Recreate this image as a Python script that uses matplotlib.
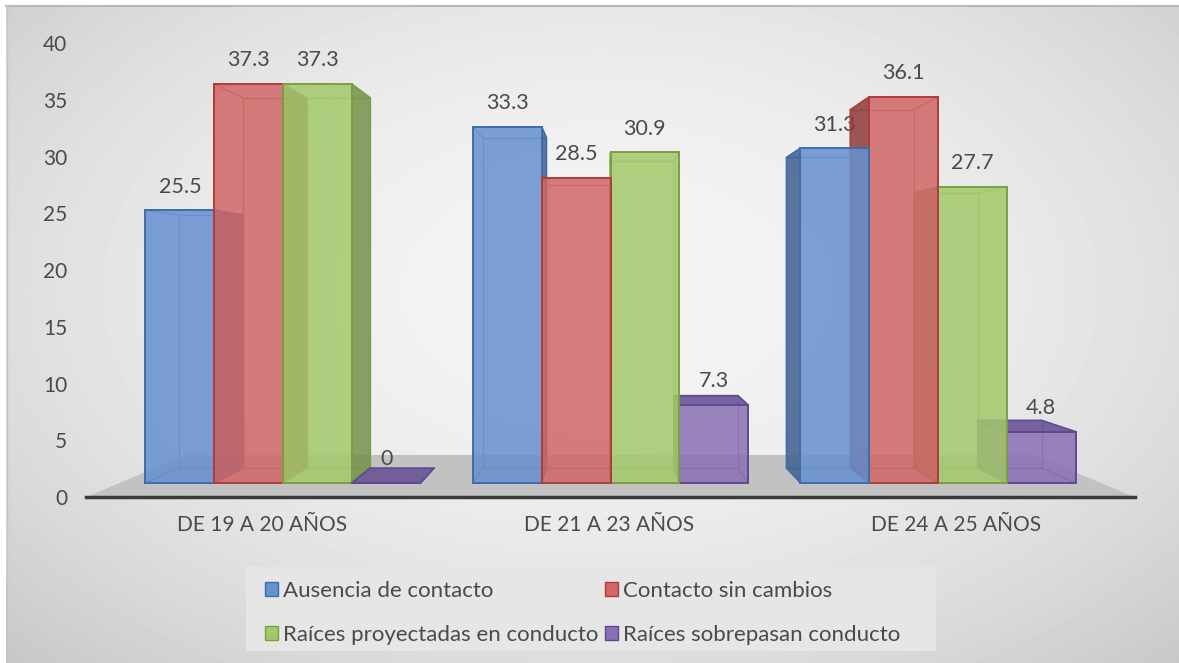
import numpy as np
import matplotlib.pyplot as plt
from matplotlib.patches import Polygon, Rectangle, Patch
from matplotlib.colors import to_rgba

# Datos del gráfico
grupos = ["DE 19 A 20 AÑOS", "DE 21 A 23 AÑOS", "DE 24 A 25 AÑOS"]
series = ["Ausencia de contacto", "Contacto sin cambios",
          "Raíces proyectadas en conducto", "Raíces sobrepasan conducto"]
ausencia = [25.5, 33.3, 31.3]
contacto = [37.3, 28.5, 36.1]
proyectadas = [37.3, 30.9, 27.7]
sobrepasan = [0, 7.3, 4.8]
ticks_y = [0, 5, 10, 15, 20, 25, 30, 35, 40]

valores = [ausencia, contacto, proyectadas, sobrepasan]

# Colores (cara frontal, borde, cara lateral)
frente = ['#6690cf', '#d06666', '#a3c86c', '#8a70b4']
borde = ['#3f6cb0', '#b03c3c', '#7b9f40', '#5f4990']
lado = ['#3d5f8e', '#8e3a3a', '#74924a', '#6a5496']
gris_texto = '#4a4a4a'

plt.rcParams['font.family'] = ['Lato', 'DejaVu Sans']

W, H = 1179, 663
fig = plt.figure(figsize=(W / 100, H / 100), dpi=100)

# 1. Fondo con degradado radial
fondo = fig.add_axes([0, 0, 1, 1])
yy, xx = np.mgrid[5:H, 6:W]
r2 = ((xx - 600) / 600) ** 2 + ((yy - 290) / 370) ** 2
gris = np.clip(0.955 - 0.088 * r2, 0, 1)
fondo.imshow(gris, cmap='gray', vmin=0, vmax=1, extent=(6, W, H, 5), aspect='auto')
fondo.plot([6, W], [5.5, 5.5], color='#b8b8b8', lw=1.5)
fondo.plot([6.5, 6.5], [5, H], color='#c4c4c4', lw=1)
fondo.add_patch(Rectangle((246, 567), 690, 84, facecolor='#e6e6e6', edgecolor='none'))
fondo.set_xlim(0, W)
fondo.set_ylim(H, 0)
fondo.axis('off')

# 2. Ejes de las barras (plano frontal de las barras)
L, R, B, T = 86.5, 1134.5, 497, 30
pos = [L / W, 1 - B / H, (R - L) / W, (B - T) / H]
ax = fig.add_axes(pos)
ax.set_xlim(-0.6, 2.6)
ax.set_ylim(-1.31, 42.34)
ax.axis('off')

vx, vy = 0.99, 19.35  # punto de fuga
k = 0.0725            # profundidad de las barras
kp = 0.19             # profundidad del piso


def atras(x, y, f):
    return x + f * (vx - x), y + f * (vy - y)


# Piso
y0 = ax.get_ylim()[0]
xa, xb = ax.get_xlim()
piso = [(xa, y0), (xb, y0), atras(xb, y0, kp), atras(xa, y0, kp)]
ax.add_patch(Polygon(piso, closed=True, facecolor='#c2c2c2', edgecolor='none', zorder=0.5))

# Barras con efecto 3D
n = len(valores)
ancho = 0.21
xg = np.arange(len(grupos))
for i, vals in enumerate(valores):
    barras = ax.bar(xg + (i - (n - 1) / 2) * ancho, vals, ancho,
                    color=to_rgba(frente[i], 0.85), edgecolor=borde[i], linewidth=1.4)
    for b, v in zip(barras, vals):
        x0 = b.get_x()
        x1 = x0 + b.get_width()
        h = b.get_height()
        cx = x0 + b.get_width() / 2
        z = 5 - abs(cx - vx)
        b.set_zorder(z + 0.03)
        bx0, bh = atras(x0, h, k)
        bx1, _ = atras(x1, h, k)
        _, bb = atras(x0, 0, k)
        # cara trasera y aristas de profundidad
        ax.add_patch(Polygon([(bx0, bb), (bx1, bb), (bx1, bh), (bx0, bh)], closed=True,
                             fill=False, edgecolor=borde[i], lw=1, alpha=0.7, zorder=z))
        for (fx, fy), (tx, ty) in [((x0, 0), (bx0, bb)), ((x1, 0), (bx1, bb)),
                                   ((x0, h), (bx0, bh)), ((x1, h), (bx1, bh))]:
            ax.plot([fx, tx], [fy, ty], color=borde[i], lw=1, alpha=0.7, zorder=z)
        # cara lateral
        if x1 < vx:
            ax.add_patch(Polygon([(x1, 0), (x1, h), (bx1, bh), (bx1, bb)], closed=True,
                                 facecolor=to_rgba(lado[i], 0.85), edgecolor=borde[i],
                                 lw=1, zorder=z + 0.01))
        elif x0 > vx:
            ax.add_patch(Polygon([(x0, 0), (x0, h), (bx0, bh), (bx0, bb)], closed=True,
                                 facecolor=to_rgba(lado[i], 0.85), edgecolor=borde[i],
                                 lw=1, zorder=z + 0.01))
        # cara superior (solo si queda por debajo de la vista)
        if h < vy:
            ax.add_patch(Polygon([(x0, h), (x1, h), (bx1, bh), (bx0, bh)], closed=True,
                                 facecolor=to_rgba(lado[i], 0.9), edgecolor=borde[i],
                                 lw=1, zorder=z + 0.02))
        # etiqueta de datos
        ax.annotate(f"{v:g}", (cx, h), xytext=(0, 17), textcoords='offset points',
                    ha='center', va='center', fontsize=15.5, color=gris_texto, zorder=1)

# 3. Ejes frontales: escala y categorías
axf = fig.add_axes(pos)
axf.patch.set_visible(False)
axf.set_xlim(-0.506, 2.514)
axf.set_ylim(0, 41.15)
axf.set_yticks(ticks_y)
axf.set_xticks(xg, grupos)
axf.tick_params(length=0, labelsize=15, labelcolor=gris_texto)
axf.tick_params(axis='y', pad=14)
axf.tick_params(axis='x', pad=13)
for s in ['top', 'right', 'left']:
    axf.spines[s].set_visible(False)
axf.spines['bottom'].set_color('#3a3a3a')
axf.spines['bottom'].set_linewidth(2.5)

# 4. Leyenda
orden = [0, 2, 1, 3]
handles = [Patch(facecolor=frente[i], edgecolor=borde[i]) for i in orden]
fig.legend(handles, [series[i] for i in orden], loc='upper left',
           bbox_to_anchor=(254 / W, 1 - 570 / H), ncol=2, frameon=False,
           fontsize=16, handlelength=0.6, handleheight=0.6, handletextpad=0.2,
           columnspacing=0.3, labelspacing=1.07, borderpad=0, labelcolor=gris_texto)

fig.savefig('out.png', dpi=100, facecolor='white')
